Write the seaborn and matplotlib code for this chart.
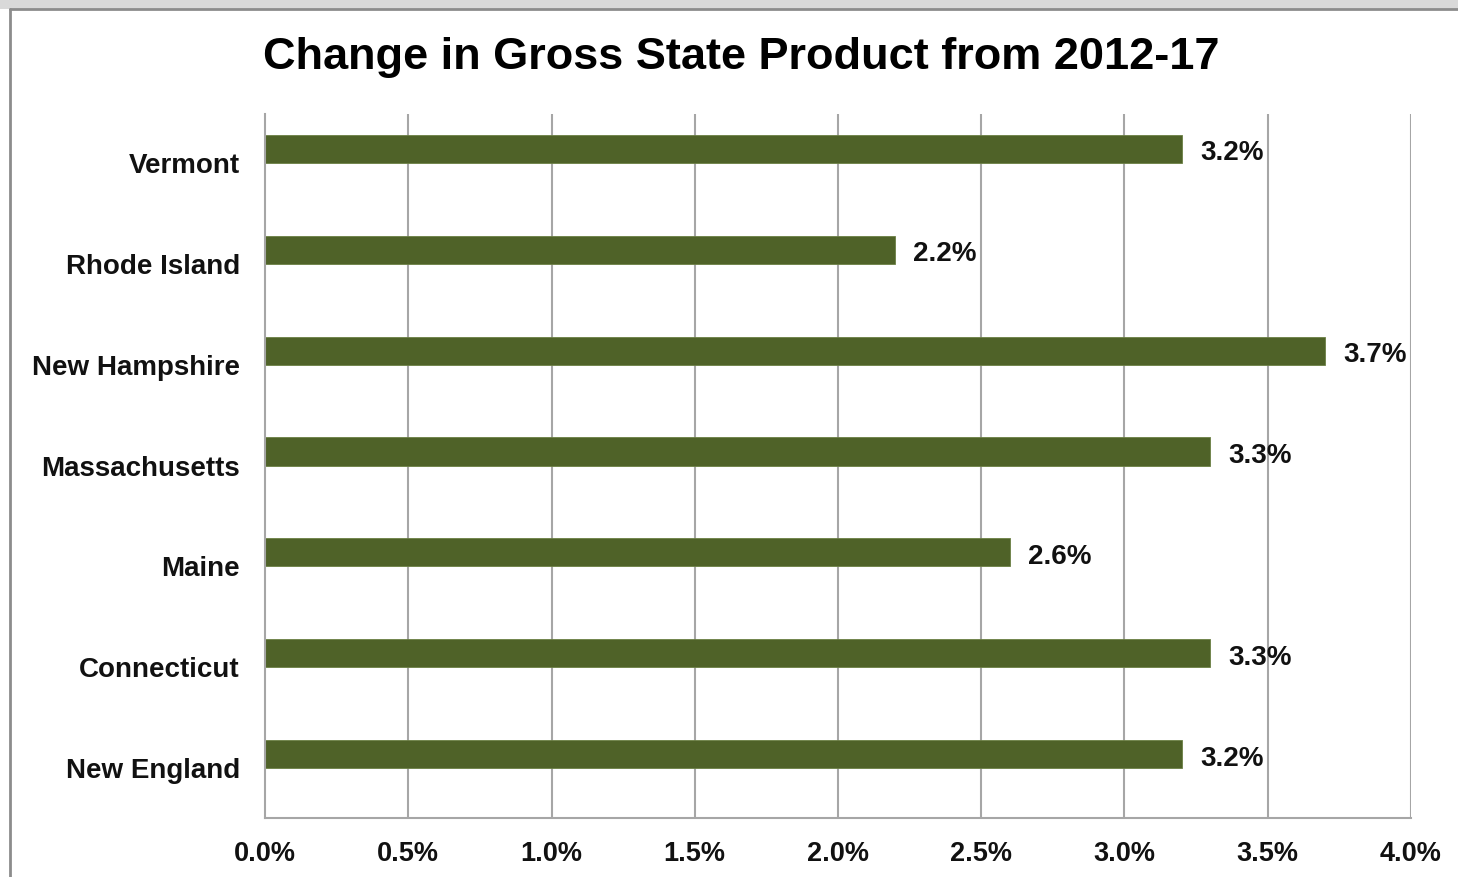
import matplotlib
matplotlib.use("Agg")
import matplotlib.pyplot as plt
import seaborn as sns
import pandas as pd
import numpy as np
from matplotlib.patches import Rectangle

states = ["Vermont", "Rhode Island", "New Hampshire", "Massachusetts", "Maine", "Connecticut", "New England"]
growth = [3.2, 2.2, 3.7, 3.3, 2.6, 3.3, 3.2]
value_labels = ["3.2%", "2.2%", "3.7%", "3.3%", "2.6%", "3.3%", "3.2%"]
xticks = [0.0, 0.5, 1.0, 1.5, 2.0, 2.5, 3.0, 3.5, 4.0]
xtick_labels = ["0.0%", "0.5%", "1.0%", "1.5%", "2.0%", "2.5%", "3.0%", "3.5%", "4.0%"]
title = "Change in Gross State Product from 2012-17"

sns.set_theme(style="white")
plt.rcParams["font.family"] = ["Liberation Sans", "DejaVu Sans"]

df = pd.DataFrame({"state": states, "growth": growth})

fig = plt.figure(figsize=(14.58, 8.78), dpi=100)
ax = fig.add_axes([265/1458, 1-819/878, (1411-265)/1458, (819-115)/878])

sns.barplot(data=df, y="state", x="growth", orient="h", color="#4F6228",
            width=0.28, edgecolor="#6B7F44", linewidth=0.6, saturation=1, ax=ax)

ax.set_xlim(0, 4.0)
ax.set_ylim(6.634, -0.347)
ax.set_xticks(xticks)
ax.set_xticklabels(xtick_labels, fontsize=19.5, fontweight="bold", color="#111111")
ax.set_yticks(np.arange(len(states)) + 0.13)
ax.set_yticklabels(states, fontsize=20, fontweight="bold", color="#111111")
ax.tick_params(axis="x", length=0, pad=16)
ax.tick_params(axis="y", length=0, pad=18)
ax.set_xlabel("")
ax.set_ylabel("")

for x in xticks[1:]:
    ax.axvline(x, color="#A6A6A6", linewidth=1.5, zorder=0)
ax.set_axisbelow(True)
for s in ["top", "right"]:
    ax.spines[s].set_visible(False)
for s in ["left", "bottom"]:
    ax.spines[s].set_color("#A6A6A6")
    ax.spines[s].set_linewidth(1.5)

for i, (v, lab) in enumerate(zip(growth, value_labels)):
    ax.annotate(lab, xy=(v, i), xytext=(13, -2.5), textcoords="offset points",
                va="center", ha="left", fontsize=20, fontweight="bold", color="#111111")

fig.text(741/1458, 1-58/878, title, ha="center", va="center", fontsize=32.5,
         fontweight="bold", color="#000000")

# outer frame (top strip and left border)
fig.patches.append(Rectangle((0, 1-10/878), 1, 10/878, transform=fig.transFigure,
                             facecolor="#D9D9D9", edgecolor="none", zorder=-1))
fig.lines.append(plt.Line2D([10/1458, 1], [1-10/878, 1-10/878], transform=fig.transFigure,
                            color="#8C8C8C", linewidth=2))
fig.lines.append(plt.Line2D([10/1458, 10/1458], [0, 1-10/878], transform=fig.transFigure,
                            color="#8C8C8C", linewidth=2))

fig.savefig("out.png", dpi=100)
